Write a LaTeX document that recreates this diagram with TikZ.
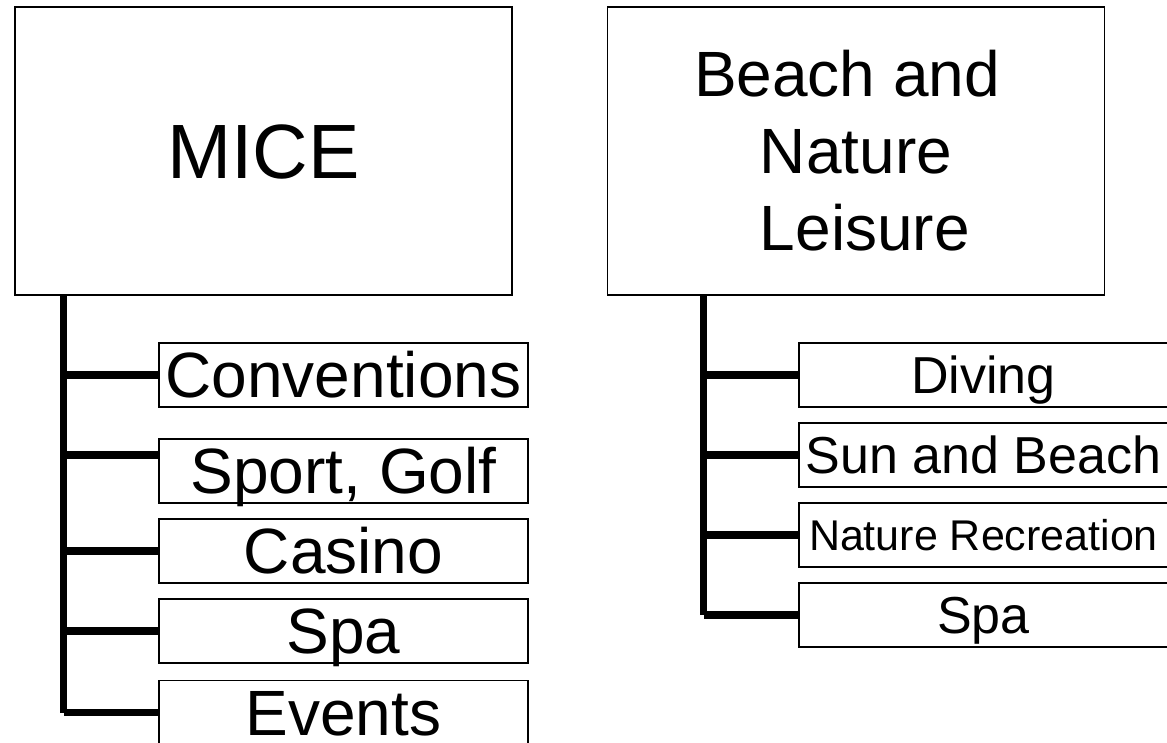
\documentclass[tikz,border=0pt]{standalone}
\usepackage{fontspec}
\setmainfont{Liberation Sans}
\usetikzlibrary{positioning}

\begin{document}
\begin{tikzpicture}[x=1pt, y=-1pt, node distance=16pt,
                    head/.style={draw, line width=1.3pt, minimum width=497pt, minimum height=288pt,
                                 inner sep=0pt, outer sep=0pt, align=center},
                    item/.style={draw, line width=1.3pt, minimum width=369pt, minimum height=64pt,
                                 inner sep=0pt, outer sep=0pt, font=\fontsize{64}{77}\selectfont,
                                 text height=45.8pt, text depth=0pt},
                    smallitem/.style={item, font=\fontsize{52}{62}\selectfont, text height=37.2pt},
                    tinyitem/.style={item, font=\fontsize{43}{52}\selectfont, text height=30.8pt},
                    bar/.style={line width=7.5pt}]
    \clip (0,0) rectangle (1167,742);

    % the two groups
    \node[head, font=\fontsize{77}{92}\selectfont, text height=55.1pt, text depth=0pt] (mice) at (263.5,151) {MICE};
    \node[head, font=\fontsize{64}{77}\selectfont] (beach) at (856,151)
        {Beach and\hspace*{.278em}\\Nature\\\hspace*{.278em}Leisure};

    % MICE items
    \node[item] (conv) at (343.5,375) {Conventions};
    \node[item, below=32pt of conv] (sport) {Sport, Golf};
    \node[item, below=of sport] (casino) {Casino};
    \node[item, below=of casino] (spaa) {Spa};
    \node[item, below=17.5pt of spaa] (events) {Events};

    % beach and nature items
    \node[smallitem] (diving) at (983.5,375) {Diving};
    \node[smallitem, below=of diving] (sunbeach) {Sun and Beach};
    \node[tinyitem, below=of sunbeach] (natrec) {Nature Recreation};
    \node[smallitem, below=of natrec] (spab) {Spa};

    \coordinate (miceroot) at ([xshift=48.5pt]mice.south west);
    \coordinate (beachroot) at ([xshift=96pt]beach.south west);

    \draw[bar] (miceroot) -- (miceroot |- events.west);
    \draw[bar] (miceroot |- conv.west) -- (conv.west);
    \draw[bar] ([yshift=16pt]sport.west -| miceroot) -- ([yshift=16pt]sport.west);
    \draw[bar] (miceroot |- casino.west) -- (casino.west);
    \draw[bar] (miceroot |- spaa.west) -- (spaa.west);
    \draw[bar] (miceroot |- events.west) -- (events.west);

    \draw[bar] (beachroot) -- (beachroot |- spab.west);
    \draw[bar] (beachroot |- diving.west) -- (diving.west);
    \draw[bar] (beachroot |- sunbeach.west) -- (sunbeach.west);
    \draw[bar] (beachroot |- natrec.west) -- (natrec.west);
    \draw[bar] (beachroot |- spab.west) -- (spab.west);
\end{tikzpicture}
\end{document}
